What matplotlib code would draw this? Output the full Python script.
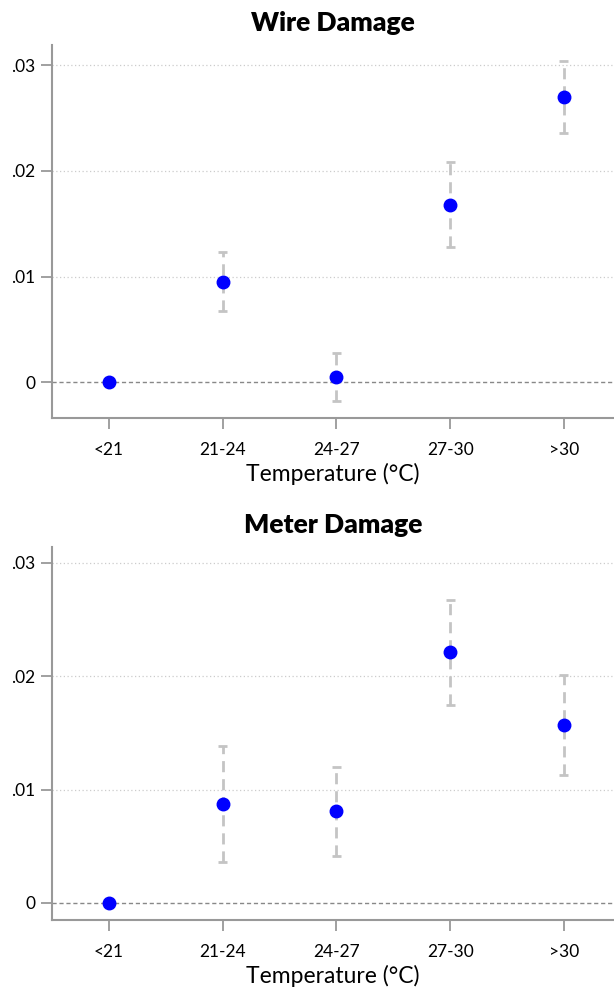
import matplotlib
matplotlib.use("Agg")
import matplotlib.pyplot as plt
import numpy as np

plt.rcParams['font.family'] = ['Lato', 'DejaVu Sans']

categories = ["<21", "21-24", "24-27", "27-30", ">30"]

wire_est = [0.0, 0.00946, 0.0005, 0.01675, 0.0270]
wire_lo = [0.0, 0.0067, -0.0018, 0.0128, 0.0236]
wire_hi = [0.0, 0.0123, 0.0028, 0.0208, 0.0304]

meter_est = [0.0, 0.00874, 0.0081, 0.02215, 0.01571]
meter_lo = [0.0, 0.0036, 0.0041, 0.01748, 0.0113]
meter_hi = [0.0, 0.01386, 0.0120, 0.02674, 0.02012]

yticks = [0, 0.01, 0.02, 0.03]
ytick_labels = ["0", ".01", ".02", ".03"]

fig = plt.figure(figsize=(6.14, 9.91), dpi=100)

panels = [
    ("Wire Damage", wire_est, wire_lo, wire_hi, [0.0847, 0.578, 0.9153, 0.3766], (-0.0034, 0.0319)),
    ("Meter Damage", meter_est, meter_lo, meter_hi, [0.0847, 0.0717, 0.9153, 0.3763], (-0.0015, 0.0314)),
]

spine_c = "#999999"
for title, est, lo, hi, rect, ylim in panels:
    ax = fig.add_axes(rect)
    x = np.arange(1, len(categories) + 1)
    est = np.array(est); lo = np.array(lo); hi = np.array(hi)
    mask = hi > lo
    for i in np.where(mask)[0]:
        ax.plot([x[i], x[i]], [lo[i], hi[i]], color="#c4c4c4", lw=2, ls=(0, (4, 2.5)), zorder=2)
        for yv in (lo[i], hi[i]):
            ax.plot([x[i] - 0.04, x[i] + 0.04], [yv, yv], color="#c4c4c4", lw=2, zorder=2, solid_capstyle='butt')
    for yv in yticks[1:]:
        ax.axhline(yv, color="#cccccc", lw=0.9, ls=(0, (1, 2)), zorder=1)
    ax.axhline(0, color="#888888", lw=1.0, ls=(0, (3, 2)), zorder=1)
    ax.plot(x, est, 'o', color="#0000ff", markersize=9, zorder=3)
    ax.set_xlim(0.5, 5.44)
    ax.set_ylim(*ylim)
    ax.set_xticks(x)
    ax.set_xticklabels(categories, fontsize=12.5)
    ax.set_yticks(yticks)
    ax.set_yticklabels(ytick_labels, fontsize=12.5)
    ax.tick_params(axis='both', direction='out', color=spine_c, width=1.3, length=8)
    ax.tick_params(axis='x', pad=9)
    ax.tick_params(axis='y', pad=4)
    for s in ("top", "right"):
        ax.spines[s].set_visible(False)
    for s in ("left", "bottom"):
        ax.spines[s].set_color(spine_c)
        ax.spines[s].set_linewidth(1.5)
    ax.set_xlabel("Temperature (°C)", fontsize=16.5, labelpad=4)
    ax.set_title(title, fontsize=19, fontweight='heavy', pad=10)

fig.savefig("out.png", dpi=100)
